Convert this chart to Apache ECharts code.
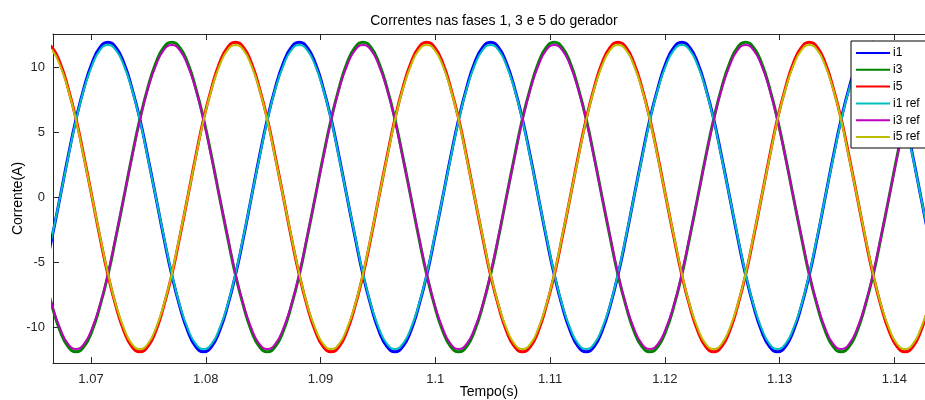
<!DOCTYPE html>
<html>
<head>
<meta charset="utf-8">
<script src="https://cdn.jsdelivr.net/npm/echarts@6/dist/echarts.min.js"></script>
<style>
  html, body { margin: 0; padding: 0; background: #fff; }
  #chart { width: 925px; height: 400px; }
</style>
</head>
<body>
<div id="chart"></div>
<script>
// sample times (s), every ~1/24 of a cycle
var tempo = [1.06592, 1.06661, 1.06731, 1.06800, 1.06870, 1.06939, 1.07009, 1.07078,
  1.07148, 1.07217, 1.07287, 1.07356, 1.07426, 1.07495, 1.07565, 1.07634,
  1.07704, 1.07773, 1.07843, 1.07912, 1.07981, 1.08051, 1.08120, 1.08190,
  1.08259, 1.08329, 1.08398, 1.08467, 1.08537, 1.08606, 1.08676, 1.08745,
  1.08815, 1.08884, 1.08954, 1.09023, 1.09093, 1.09162, 1.09231, 1.09301,
  1.09370, 1.09440, 1.09509, 1.09579, 1.09648, 1.09717, 1.09787, 1.09856,
  1.09926, 1.09995, 1.10065, 1.10134, 1.10204, 1.10273, 1.10342, 1.10412,
  1.10481, 1.10551, 1.10620, 1.10690, 1.10759, 1.10829, 1.10898, 1.10967,
  1.11037, 1.11106, 1.11176, 1.11245, 1.11315, 1.11384, 1.11453, 1.11523,
  1.11592, 1.11662, 1.11731, 1.11801, 1.11870, 1.11940, 1.12009, 1.12079,
  1.12148, 1.12217, 1.12287, 1.12356, 1.12426, 1.12495, 1.12565, 1.12634,
  1.12704, 1.12773, 1.12843, 1.12912, 1.12981, 1.13051, 1.13120, 1.13190,
  1.13259, 1.13329, 1.13398, 1.13467, 1.13537, 1.13606, 1.13676, 1.13745,
  1.13815, 1.13884, 1.13954, 1.14023, 1.14093, 1.14162, 1.14231, 1.14301, 1.14370];

// measured currents (A)
var i1 = [-6.0, -3.1, 0, 3.1, 6.0, 8.4, 10.3, 11.5, 11.9, 11.5, 10.3, 8.4, 6.0, 3.1, 0, -3.1, -6.0, -8.4, -10.3, -11.5, -11.9, -11.5, -10.3, -8.4,
  -6.0, -3.1, 0, 3.1, 6.0, 8.4, 10.3, 11.5, 11.9, 11.5, 10.3, 8.4, 6.0, 3.1, 0, -3.1, -6.0, -8.4, -10.3, -11.5, -11.9, -11.5, -10.3, -8.4,
  -6.0, -3.1, 0, 3.1, 6.0, 8.4, 10.3, 11.5, 11.9, 11.5, 10.3, 8.4, 6.0, 3.1, 0, -3.1, -6.0, -8.4, -10.3, -11.5, -11.9, -11.5, -10.3, -8.4,
  -6.0, -3.1, 0, 3.1, 6.0, 8.4, 10.3, 11.5, 11.9, 11.5, 10.3, 8.4, 6.0, 3.1, 0, -3.1, -6.0, -8.4, -10.3, -11.5, -11.9, -11.5, -10.3, -8.4,
  -6.0, -3.1, 0, 3.1, 6.0, 8.4, 10.3, 11.5, 11.9, 11.5, 10.3, 8.4, 6.0, 3.1, 0, -3.1, -6.0];
var i3 = [-6.0, -8.4, -10.3, -11.5, -11.9, -11.5, -10.3, -8.4, -6.0, -3.1, 0, 3.1, 6.0, 8.4, 10.3, 11.5, 11.9, 11.5, 10.3, 8.4, 6.0, 3.1, 0, -3.1,
  -6.0, -8.4, -10.3, -11.5, -11.9, -11.5, -10.3, -8.4, -6.0, -3.1, 0, 3.1, 6.0, 8.4, 10.3, 11.5, 11.9, 11.5, 10.3, 8.4, 6.0, 3.1, 0, -3.1,
  -6.0, -8.4, -10.3, -11.5, -11.9, -11.5, -10.3, -8.4, -6.0, -3.1, 0, 3.1, 6.0, 8.4, 10.3, 11.5, 11.9, 11.5, 10.3, 8.4, 6.0, 3.1, 0, -3.1,
  -6.0, -8.4, -10.3, -11.5, -11.9, -11.5, -10.3, -8.4, -6.0, -3.1, 0, 3.1, 6.0, 8.4, 10.3, 11.5, 11.9, 11.5, 10.3, 8.4, 6.0, 3.1, 0, -3.1,
  -6.0, -8.4, -10.3, -11.5, -11.9, -11.5, -10.3, -8.4, -6.0, -3.1, 0, 3.1, 6.0, 8.4, 10.3, 11.5, 11.9];
var i5 = [11.9, 11.5, 10.3, 8.4, 6.0, 3.1, 0, -3.1, -6.0, -8.4, -10.3, -11.5, -11.9, -11.5, -10.3, -8.4, -6.0, -3.1, 0, 3.1, 6.0, 8.4, 10.3, 11.5,
  11.9, 11.5, 10.3, 8.4, 6.0, 3.1, 0, -3.1, -6.0, -8.4, -10.3, -11.5, -11.9, -11.5, -10.3, -8.4, -6.0, -3.1, 0, 3.1, 6.0, 8.4, 10.3, 11.5,
  11.9, 11.5, 10.3, 8.4, 6.0, 3.1, 0, -3.1, -6.0, -8.4, -10.3, -11.5, -11.9, -11.5, -10.3, -8.4, -6.0, -3.1, 0, 3.1, 6.0, 8.4, 10.3, 11.5,
  11.9, 11.5, 10.3, 8.4, 6.0, 3.1, 0, -3.1, -6.0, -8.4, -10.3, -11.5, -11.9, -11.5, -10.3, -8.4, -6.0, -3.1, 0, 3.1, 6.0, 8.4, 10.3, 11.5,
  11.9, 11.5, 10.3, 8.4, 6.0, 3.1, 0, -3.1, -6.0, -8.4, -10.3, -11.5, -11.9, -11.5, -10.3, -8.4, -6.0];

// reference currents (A)
var i1ref = [-5.9, -3.0, 0, 3.0, 5.9, 8.3, 10.1, 11.3, 11.7, 11.3, 10.1, 8.3, 5.9, 3.0, 0, -3.0, -5.9, -8.3, -10.1, -11.3, -11.7, -11.3, -10.1, -8.3,
  -5.9, -3.0, 0, 3.0, 5.9, 8.3, 10.1, 11.3, 11.7, 11.3, 10.1, 8.3, 5.9, 3.0, 0, -3.0, -5.9, -8.3, -10.1, -11.3, -11.7, -11.3, -10.1, -8.3,
  -5.9, -3.0, 0, 3.0, 5.9, 8.3, 10.1, 11.3, 11.7, 11.3, 10.1, 8.3, 5.9, 3.0, 0, -3.0, -5.9, -8.3, -10.1, -11.3, -11.7, -11.3, -10.1, -8.3,
  -5.9, -3.0, 0, 3.0, 5.9, 8.3, 10.1, 11.3, 11.7, 11.3, 10.1, 8.3, 5.9, 3.0, 0, -3.0, -5.9, -8.3, -10.1, -11.3, -11.7, -11.3, -10.1, -8.3,
  -5.9, -3.0, 0, 3.0, 5.9, 8.3, 10.1, 11.3, 11.7, 11.3, 10.1, 8.3, 5.9, 3.0, 0, -3.0, -5.9];
var i3ref = [-5.9, -8.3, -10.1, -11.3, -11.7, -11.3, -10.1, -8.3, -5.9, -3.0, 0, 3.0, 5.9, 8.3, 10.1, 11.3, 11.7, 11.3, 10.1, 8.3, 5.9, 3.0, 0, -3.0,
  -5.9, -8.3, -10.1, -11.3, -11.7, -11.3, -10.1, -8.3, -5.9, -3.0, 0, 3.0, 5.9, 8.3, 10.1, 11.3, 11.7, 11.3, 10.1, 8.3, 5.9, 3.0, 0, -3.0,
  -5.9, -8.3, -10.1, -11.3, -11.7, -11.3, -10.1, -8.3, -5.9, -3.0, 0, 3.0, 5.9, 8.3, 10.1, 11.3, 11.7, 11.3, 10.1, 8.3, 5.9, 3.0, 0, -3.0,
  -5.9, -8.3, -10.1, -11.3, -11.7, -11.3, -10.1, -8.3, -5.9, -3.0, 0, 3.0, 5.9, 8.3, 10.1, 11.3, 11.7, 11.3, 10.1, 8.3, 5.9, 3.0, 0, -3.0,
  -5.9, -8.3, -10.1, -11.3, -11.7, -11.3, -10.1, -8.3, -5.9, -3.0, 0, 3.0, 5.9, 8.3, 10.1, 11.3, 11.7];
var i5ref = [11.7, 11.3, 10.1, 8.3, 5.9, 3.0, 0, -3.0, -5.9, -8.3, -10.1, -11.3, -11.7, -11.3, -10.1, -8.3, -5.9, -3.0, 0, 3.0, 5.9, 8.3, 10.1, 11.3,
  11.7, 11.3, 10.1, 8.3, 5.9, 3.0, 0, -3.0, -5.9, -8.3, -10.1, -11.3, -11.7, -11.3, -10.1, -8.3, -5.9, -3.0, 0, 3.0, 5.9, 8.3, 10.1, 11.3,
  11.7, 11.3, 10.1, 8.3, 5.9, 3.0, 0, -3.0, -5.9, -8.3, -10.1, -11.3, -11.7, -11.3, -10.1, -8.3, -5.9, -3.0, 0, 3.0, 5.9, 8.3, 10.1, 11.3,
  11.7, 11.3, 10.1, 8.3, 5.9, 3.0, 0, -3.0, -5.9, -8.3, -10.1, -11.3, -11.7, -11.3, -10.1, -8.3, -5.9, -3.0, 0, 3.0, 5.9, 8.3, 10.1, 11.3,
  11.7, 11.3, 10.1, 8.3, 5.9, 3.0, 0, -3.0, -5.9, -8.3, -10.1, -11.3, -11.7, -11.3, -10.1, -8.3, -5.9];

// tick positions
var xTicks = [1.07, 1.08, 1.09, 1.1, 1.11, 1.12, 1.13, 1.14];
var yTicks = [-10, -5, 0, 5, 10];

var font = '"Liberation Sans", Arial, Helvetica, sans-serif';
var axisColor = '#262626';

function pairs(values) {
  var out = [];
  for (var k = 0; k < tempo.length; k++) {
    out.push([tempo[k], values[k]]);
  }
  return out;
}

function serie(name, values, color, width) {
  return {
    name: name,
    type: 'line',
    data: pairs(values),
    smooth: true,
    symbol: 'none',
    lineStyle: { color: color, width: width },
    itemStyle: { color: color },
    clip: true
  };
}

var chart = echarts.init(document.getElementById('chart'));

var options = {
  animation: false,
  backgroundColor: '#fff',
  title: {
    text: 'Correntes nas fases 1, 3 e 5 do gerador',
    left: 489,
    textAlign: 'center',
    top: 9,
    textStyle: { fontFamily: font, fontSize: 14, fontWeight: 'normal', color: '#000' }
  },
  legend: {
    orient: 'vertical',
    left: 851,
    top: 41,
    padding: [6, 20, 5, 5],
    icon: 'rect',
    itemWidth: 34,
    itemHeight: 2,
    itemGap: 4.8,
    backgroundColor: '#fff',
    borderColor: '#000',
    borderWidth: 1,
    borderRadius: 0,
    textStyle: { fontFamily: font, fontSize: 12, lineHeight: 12, color: '#000', padding: [0, 0, 0, -2] },
    data: ['i1', 'i3', 'i5', 'i1 ref', 'i3 ref', 'i5 ref']
  },
  grid: { left: 53, top: 34, right: 0, bottom: 37, outerBoundsMode: 'none' },
  xAxis: [{
    type: 'value',
    min: 1.06669,
    max: 1.14267,
    name: 'Tempo(s)',
    nameLocation: 'middle',
    nameGap: 22,
    nameMoveOverlap: false,
    nameTextStyle: { fontFamily: font, fontSize: 14, color: '#000' },
    axisLine: { show: true, onZero: false, lineStyle: { color: axisColor, width: 1 } },
    axisTick: { show: true, inside: true, length: 6, customValues: xTicks, lineStyle: { color: axisColor } },
    axisLabel: { customValues: xTicks, fontFamily: font, fontSize: 13, color: axisColor, margin: 10 },
    splitLine: { show: false }
  }, {
    type: 'value',
    position: 'top',
    min: 1.06669,
    max: 1.14267,
    axisLine: { show: true, onZero: false, lineStyle: { color: axisColor, width: 1 } },
    axisTick: { show: true, inside: true, length: 6, customValues: xTicks, lineStyle: { color: axisColor } },
    axisLabel: { show: false },
    splitLine: { show: false }
  }],
  yAxis: {
    type: 'value',
    min: -12.77,
    max: 12.54,
    name: 'Corrente(A)',
    nameLocation: 'middle',
    nameGap: 28,
    nameMoveOverlap: false,
    nameTextStyle: { fontFamily: font, fontSize: 14, color: '#000' },
    axisLine: { show: true, onZero: false, lineStyle: { color: axisColor, width: 1 } },
    axisTick: { show: true, inside: true, length: 6, customValues: yTicks, lineStyle: { color: axisColor } },
    axisLabel: { customValues: yTicks, fontFamily: font, fontSize: 13, color: axisColor, margin: 8 },
    splitLine: { show: false }
  },
  series: [
    serie('i1', i1, '#0000ff', 3),
    serie('i3', i3, '#008000', 3),
    serie('i5', i5, '#ff0000', 3),
    serie('i1 ref', i1ref, '#00bfbf', 2),
    serie('i3 ref', i3ref, '#bf00bf', 2),
    serie('i5 ref', i5ref, '#bfbf00', 2)
  ]
};

chart.setOption(options);
window.onresize = function () {
  chart.resize();
};
</script>
</body>
</html>
